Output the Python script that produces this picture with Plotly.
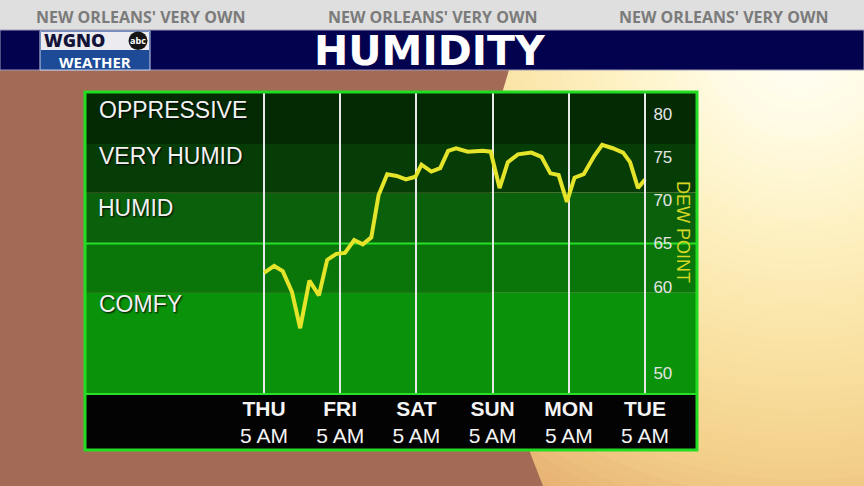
import plotly.graph_objects as go

# ---------------- data ----------------
# hours after Thursday 5 AM
hours = [0, 3.2, 5.9, 8.8, 11.4, 14.3, 17.3, 19.9, 22.8, 25.5,
         28.4, 31.1, 33.8, 36.1, 38.8, 41.8, 44.7, 47.7, 49.6, 52.7,
         55.5, 58.0, 60.5, 64.2, 68.9, 71.4, 74.2, 76.8, 80.0, 84.2,
         87.4, 90.2, 92.8, 95.4, 97.8, 100.7, 104.0, 106.5, 109.8, 113.1,
         115.3, 117.8, 120.0]
# dew point (deg F), read against the right-hand axis
dew_point = [61.6, 62.4, 61.8, 59.4, 55.2, 60.7, 59.0, 63.1, 63.8, 63.9,
             65.4, 64.9, 65.7, 70.6, 73.0, 72.8, 72.4, 72.7, 74.1, 73.3,
             73.7, 75.7, 76.0, 75.6, 75.7, 75.6, 71.4, 74.4, 75.3, 75.5,
             75.0, 73.1, 72.9, 69.8, 72.6, 73.0, 75.1, 76.4, 76.0, 75.5,
             74.4, 71.4, 72.4]

day_hours = [0, 24, 48, 72, 96, 120]
day_names = ["THU", "FRI", "SAT", "SUN", "MON", "TUE"]
day_time = "5 AM"

dew_ticks = [50, 60, 65, 70, 75, 80]

band_edges = [59.3, 65, 70.9, 76.5]     # category band boundaries (as drawn)
band_names = ["OPPRESSIVE", "VERY HUMID", "HUMID", "COMFY"]

# ---------------- layout geometry ----------------
W, H = 864, 486
L, R, T, B = 85, 697, 92, 394          # panel (plot area) in pixels
LABEL_BOTTOM = 450
THU_PX, TUE_PX = 264, 645
Y_RANGE = [47.6, 82.5]

def fx(px):
    return px / W

def fy(py):
    return 1 - py / H

pph = (TUE_PX - THU_PX) / (day_hours[-1] - day_hours[0])
x_range = [day_hours[0] - (THU_PX - L) / pph, day_hours[-1] + (R - TUE_PX) / pph]
axis_pos = fx(L) + (day_hours[-1] - x_range[0]) / (x_range[1] - x_range[0]) * (fx(R) - fx(L))

FONT = "Liberation Sans, Arial, sans-serif"
HEAD = "Open Sans, sans-serif"

fig = go.Figure()
fig.add_trace(go.Scatter(
    x=hours, y=dew_point, mode="lines",
    line=dict(color="#e4e42a", width=4),
    hoverinfo="skip", showlegend=False,
))

shapes = []

# ---- background (sunset glow, approximated by many concentric discs) ----
def hex2rgb(h):
    h = h.lstrip("#")
    return [int(h[i:i + 2], 16) for i in (0, 2, 4)]

glow_stops = [(0, "#fffff8"), (90, "#fffbe4"), (180, "#fef3c8"), (270, "#fbe8ae"),
              (350, "#f8dd9c"), (430, "#f3d08a"), (500, "#e9b877"), (590, "#dc9e6a")]

def glow_color(r):
    for (r0, c0), (r1, c1) in zip(glow_stops[:-1], glow_stops[1:]):
        if r0 <= r <= r1:
            t = (r - r0) / (r1 - r0)
            a, b = hex2rgb(c0), hex2rgb(c1)
            return "rgb(%d,%d,%d)" % tuple(round(a[i] + (b[i] - a[i]) * t) for i in range(3))
    return glow_stops[-1][1]

gcx, gcy = 800, 40
for r in range(590, 0, -10):
    shapes.append(dict(type="circle", xref="paper", yref="paper",
                       x0=fx(gcx - r), x1=fx(gcx + r), y0=fy(gcy + r), y1=fy(gcy - r),
                       fillcolor=glow_color(r), line_width=0, layer="below"))
brown_pts = [(0, 70), (509, 70), (503, 90), (493, 150), (488, 230), (492, 300),
             (505, 380), (531, 455), (543, 486), (0, 486)]
path = "M " + " L ".join(f"{fx(x):.5f},{fy(y):.5f}" for x, y in brown_pts) + " Z"
shapes.append(dict(type="path", xref="paper", yref="paper", path=path,
                   fillcolor="#a36b56", line_width=0, layer="below"))

# ---- header ----
shapes.append(dict(type="rect", xref="paper", yref="paper", x0=0, x1=1, y0=fy(30), y1=1,
                   fillcolor="#dfdfdf", line_width=0, layer="below"))
shapes.append(dict(type="rect", xref="paper", yref="paper", x0=0, x1=1, y0=fy(70), y1=fy(30),
                   fillcolor="#03024f", line=dict(color="#9a9ab8", width=1), layer="below"))
# logo
shapes.append(dict(type="rect", xref="paper", yref="paper", x0=fx(40), x1=fx(150), y0=fy(70), y1=fy(31),
                   fillcolor="#1d4b98", line=dict(color="#c8d0e8", width=1), layer="below"))
shapes.append(dict(type="rect", xref="paper", yref="paper", x0=fx(41), x1=fx(149), y0=fy(50), y1=fy(32),
                   fillcolor="#ececf0", line_width=0, layer="below"))
shapes.append(dict(type="circle", xref="paper", yref="paper", x0=fx(128.5), x1=fx(147.5), y0=fy(50), y1=fy(31.5),
                   fillcolor="#151515", line_width=0, layer="below"))

# ---- chart panel ----
shapes.append(dict(type="rect", xref="paper", yref="paper", x0=fx(L), x1=fx(R), y0=fy(LABEL_BOTTOM), y1=fy(B),
                   fillcolor="#030303", line_width=0, layer="below"))
band_colors = ["#0a930a", "#0a760a", "#0b610b", "#063d06", "#032a03"]
lows = [Y_RANGE[0]] + band_edges
highs = band_edges + [Y_RANGE[1]]
for lo, hi, c in zip(lows, highs, band_colors):
    shapes.append(dict(type="rect", xref="x domain", x0=0, x1=1, yref="y", y0=lo, y1=hi,
                       fillcolor=c, line_width=0, layer="below"))
shapes.append(dict(type="line", xref="x domain", x0=0, x1=1, yref="y", y0=65, y1=65,
                   line=dict(color="#27e027", width=2), layer="below"))
shapes.append(dict(type="line", xref="paper", yref="paper", x0=fx(L), x1=fx(R), y0=fy(B), y1=fy(B),
                   line=dict(color="#27e027", width=2), layer="above"))
shapes.append(dict(type="rect", xref="paper", yref="paper", x0=fx(L), x1=fx(R), y0=fy(LABEL_BOTTOM), y1=fy(T),
                   fillcolor="rgba(0,0,0,0)", line=dict(color="#22dc22", width=3), layer="above"))

annotations = []
for txt, cx in zip(["NEW ORLEANS' VERY OWN"] * 3, [140, 432, 723]):
    annotations.append(dict(text=txt, x=fx(cx), y=fy(17), xref="paper", yref="paper",
                            showarrow=False, xanchor="center", yanchor="middle",
                            font=dict(family=HEAD, size=16, color="#7b7b7b", weight=700)))
annotations.append(dict(text="HUMIDITY", x=fx(430), y=fy(51), xref="paper", yref="paper",
                        showarrow=False, xanchor="center", yanchor="middle",
                        font=dict(family="DejaVu Sans, sans-serif", size=41, color="#ffffff", weight=700)))
annotations.append(dict(text="WGNO", x=fx(42), y=fy(40), xref="paper", yref="paper",
                        showarrow=False, xanchor="left", yanchor="middle",
                        font=dict(family=HEAD, size=18, color="#14143a", weight=800)))
annotations.append(dict(text="abc", x=fx(138), y=fy(40.5), xref="paper", yref="paper",
                        showarrow=False, xanchor="center", yanchor="middle",
                        font=dict(family=HEAD, size=9, color="#ffffff", weight=700)))
annotations.append(dict(text="WEATHER", x=fx(95), y=fy(61.5), xref="paper", yref="paper",
                        showarrow=False, xanchor="center", yanchor="middle",
                        font=dict(family=HEAD, size=15, color="#ffffff", weight=700)))

label_pos = [(97, 110), (97, 156), (96, 208), (97, 304)]
for name, (lx, ly) in zip(band_names, label_pos):
    annotations.append(dict(text=name, x=fx(lx), y=fy(ly), xref="paper", yref="paper",
                            showarrow=False, xanchor="left", yanchor="middle",
                            font=dict(family=FONT, size=23, color="#f2f2f2",
                                      shadow="1px 1px 2px #000000")))
annotations.append(dict(text="DEW POINT", x=fx(683), y=fy(232), xref="paper", yref="paper",
                        showarrow=False, textangle=90, xanchor="center", yanchor="middle",
                        font=dict(family=FONT, size=18, color="#d6d624")))

fig.update_layout(
    width=W, height=H, margin=dict(l=0, r=0, t=0, b=0, pad=0),
    paper_bgcolor="#a36b56", plot_bgcolor="rgba(0,0,0,0)",
    shapes=shapes, annotations=annotations, showlegend=False,
    xaxis=dict(domain=[fx(L), fx(R)], range=x_range, tickmode="array",
               tickvals=day_hours,
               ticktext=[f"<b>{d}</b><br>{day_time}" for d in day_names],
               showgrid=True, gridcolor="#e8e8e8", gridwidth=2, zeroline=False,
               showline=False, ticks="", ticklabelstandoff=0,
               tickfont=dict(family=FONT, size=21, color="#f4f4f4")),
    yaxis=dict(domain=[fy(B), fy(T)], range=Y_RANGE, tickmode="array", tickvals=dew_ticks,
               anchor="free", position=axis_pos, side="right",
               showgrid=False, zeroline=False, showline=True, linecolor="#e8e8e8", linewidth=2,
               ticks="", ticklabelstandoff=4,
               tickfont=dict(family=FONT, size=17, color="#e4e4e4")),
)

fig.write_html("out.html", config={"displayModeBar": False},
               post_script="document.body.style.margin='0px';")
